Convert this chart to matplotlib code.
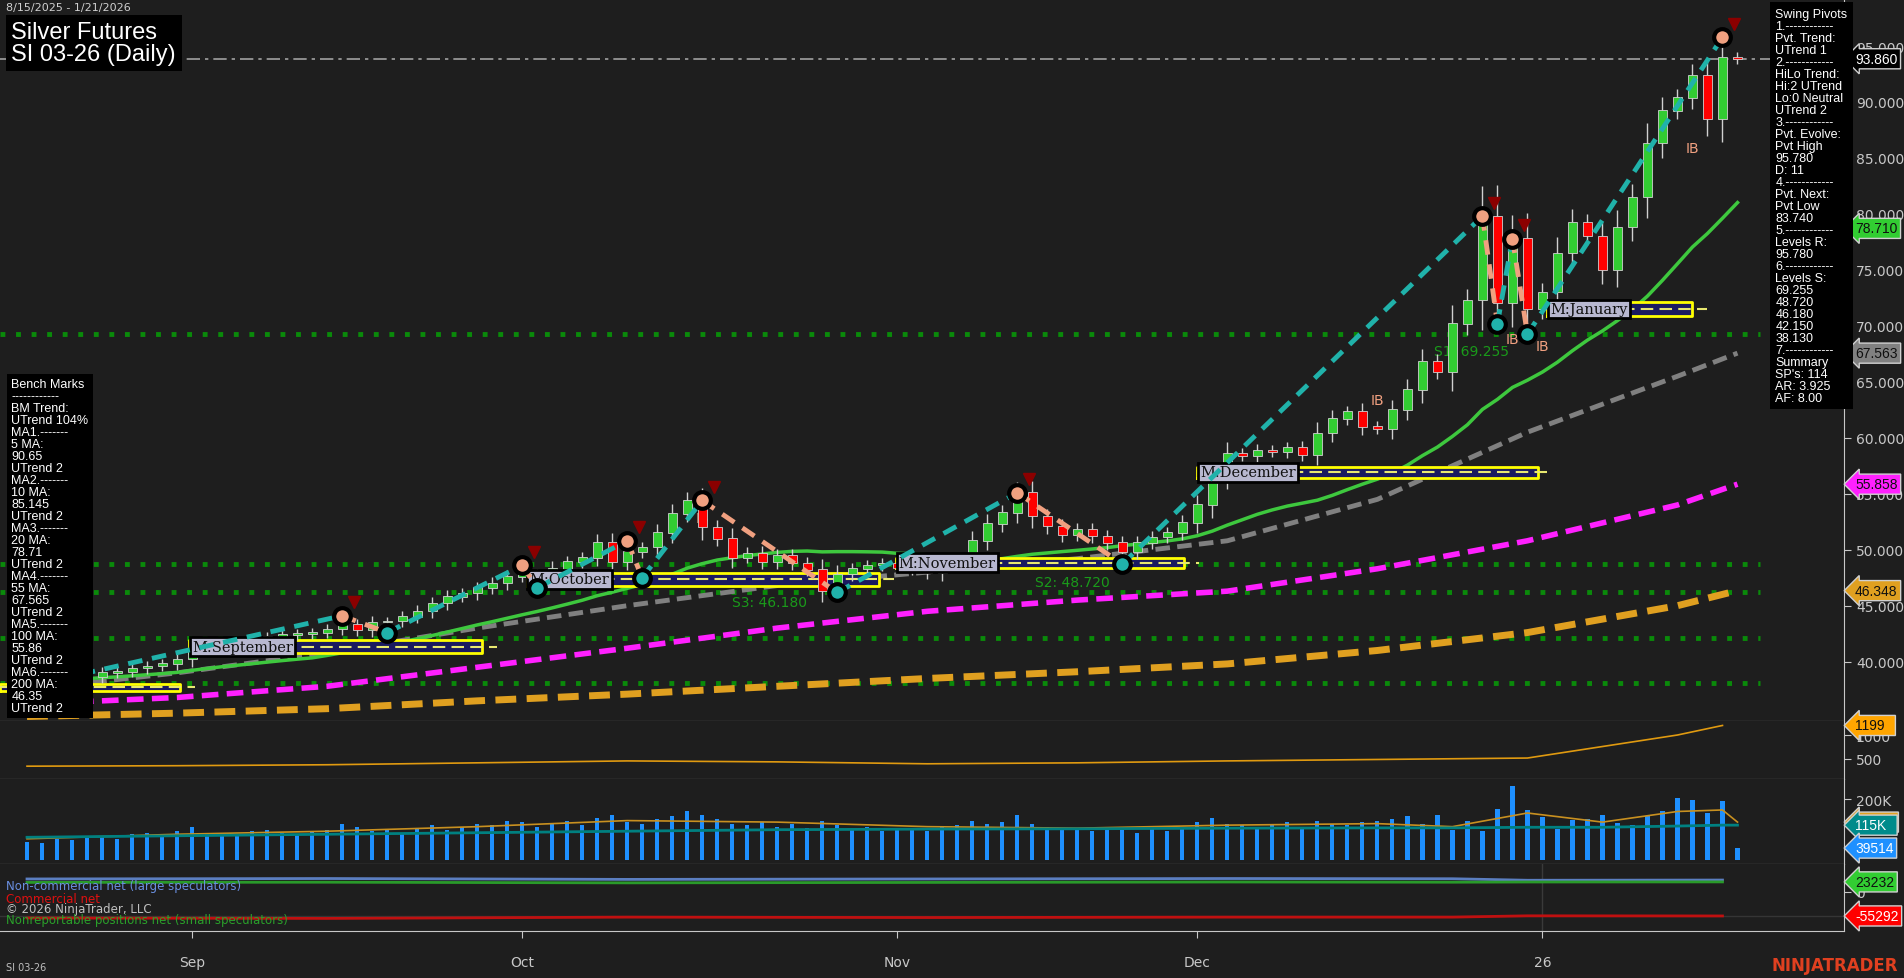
import matplotlib
matplotlib.use("Agg")
import matplotlib.pyplot as plt
import matplotlib.transforms as mtrans
import numpy as np
import pandas as pd

BG = "#1e1e1e"
# ---------------- data ----------------
closes = [38.6, 38.5, 38.4, 38.3, 38.6, 39.0, 39.1, 39.4, 39.6, 39.8, 40.2,
          41.2, 41.4, 41.6, 41.5, 41.9, 42.2, 42.4, 42.5, 42.6, 42.9, 43.3,
          42.8, 43.5, 43.6, 44.0, 44.5, 45.2, 45.8, 46.1, 46.6, 47.0, 47.6,
          47.8, 47.4, 48.3, 48.9, 49.3, 50.6, 48.9, 49.8, 50.2, 51.5, 53.2,
          54.4, 52.0, 51.0, 49.3, 49.7, 48.9, 49.5, 48.8, 48.2, 46.3, 47.8, 48.3, 48.6, 48.8,
          48.4, 48.2, 47.9, 48.8, 49.2, 50.8, 52.3, 53.3, 55.1, 53.0, 52.1, 51.3, 51.8, 51.2,
          50.6, 49.8, 50.6, 51.1, 51.5, 52.4,
          54.0, 56.5, 58.6, 58.4, 58.9, 58.7, 59.1, 58.5, 60.4, 61.7, 62.3, 61.0, 60.8, 62.5,
          64.3, 66.8, 65.9, 70.2, 72.3, 79.8, 72.0, 77.8, 71.5,
          73.0, 76.5, 79.2, 78.0, 75.0, 78.8, 81.5, 86.3, 89.2, 90.4, 92.4, 88.5, 94.0, 93.86]
first_open = 38.7

volume_k = [60, 55, 70, 65, 75, 80, 70, 85, 90, 80, 95,
            110, 85, 90, 80, 95, 100, 90, 85, 95, 100, 120,
            110, 95, 100, 90, 105, 115, 100, 110, 120, 115, 130,
            125, 110, 120, 130, 115, 140, 150, 125, 120, 135, 145,
            160, 150, 135, 120, 115, 125, 110, 120, 105, 130, 115, 100, 110, 95,
            105, 100, 95, 110, 115, 130, 120, 125, 150, 120, 110, 105, 100, 95,
            110, 100, 90, 105, 95, 110,
            125, 140, 120, 115, 110, 120, 125, 110, 130, 120, 115, 125, 130, 135,
            145, 120, 150,
            100, 129, 97, 168, 244, 164, 143, 101, 131, 136, 148, 123, 117, 146, 160,
            204, 198, 155, 193, 39.5]

ma_idx = [0, 10, 20, 30, 40, 50, 60, 70, 80, 90, 100, 110, 114]
ma55 = [37.5, 39.0, 40.8, 43.0, 45.0, 46.8, 48.0, 49.2, 50.8, 54.5, 60.5, 65.5, 67.563]
ma100 = [36.2, 36.8, 37.8, 39.5, 41.2, 43.0, 44.5, 45.5, 46.3, 48.3, 50.8, 54.0, 55.858]
ma200 = [35.1, 35.4, 35.8, 36.5, 37.1, 37.8, 38.5, 39.1, 39.8, 41.0, 42.6, 45.0, 46.348]

p2_idx = [0, 10, 20, 30, 40, 50, 60, 70, 80, 90, 100, 105, 110, 113]
p2_val = [350, 360, 380, 420, 460, 440, 400, 420, 460, 490, 520, 760, 1000, 1199]

vavg_idx = [0, 10, 20, 30, 40, 50, 60, 70, 80, 90, 95, 100, 105, 110, 113, 114]
vavg_val = [70, 85, 95, 110, 130, 125, 110, 105, 115, 120, 110, 155, 125, 160, 165, 125]
vteal_val = [75, 80, 85, 90, 95, 100, 102, 103, 105, 106, 106, 108, 108, 112, 115, 115]

cot_idx = [0, 20, 40, 60, 80, 95, 100, 113]
cot_noncomm = [30000, 31000, 29000, 30000, 31000, 30500, 27000, 27500]
cot_comm = [-60000, -61000, -58000, -59000, -58000, -58000, -55000, -55292]
cot_small = [22000, 22500, 21000, 22000, 23000, 22500, 23000, 23232]

support_levels = [69.255, 48.72, 46.18, 42.15, 38.13]

piv_idx = [2, 21, 24, 33, 34, 40, 41, 45, 54, 66, 73, 97, 98, 99, 100, 113]
piv_val = [38.4, 44.1, 42.6, 48.6, 46.6, 50.8, 47.5, 54.4, 46.18, 55.1, 48.72, 79.8, 70.2, 77.8, 69.255, 95.78]
piv_high = [False, True, False, True, False, True, False, True, False, True, False, True, False, True, False, True]

months = ["M:August", "M:September", "M:October", "M:November", "M:December", "M:January"]
mbox_x0 = [-1.8, 10.8, 33.3, 57.9, 78.0, 101.3]
mbox_x1 = [10.2, 30.3, 56.8, 77.1, 100.7, 111.0]
mbox_lo = [37.4, 40.8, 46.8, 48.4, 56.4, 70.9]
mbox_hi = [38.0, 41.9, 47.9, 49.3, 57.4, 72.1]

tick_idx = [11, 33, 58, 78, 101]
tick_lbl = ["Sep", "Oct", "Nov", "Dec", "26"]

# ---------------- figure ----------------
fig = plt.figure(figsize=(19.04, 9.79), dpi=100, facecolor=BG)
W = 0.9685
def ax_at(top_px, bot_px):
    return fig.add_axes([0, 1 - bot_px / 979, W, (bot_px - top_px) / 979], facecolor=BG)

ax = ax_at(0, 722)
ax2 = ax_at(722, 780)
axv = ax_at(780, 865)
axc = ax_at(865, 932)
XL = (-1.8, 121.1)
for a in (ax, ax2, axv, axc):
    a.set_xlim(*XL)
    for s in ("left", "top"):
        a.spines[s].set_visible(False)
    a.spines["right"].set_color("#c8c8c8")
    a.spines["bottom"].set_color("#c8c8c8")
    a.yaxis.tick_right()
    a.tick_params(axis="y", colors="#c8c8c8", labelsize=10, length=5, direction="out")
    a.tick_params(axis="x", length=0, labelbottom=False)
axc.set_xticks(tick_idx)
axc.set_xticklabels(tick_lbl)
axc.tick_params(axis="x", labelbottom=True, colors="#c8c8c8", labelsize=10, length=5, pad=12)
axc.axvline(101, color="#3a3a3a", lw=1)

# main price
n = len(closes)
x = np.arange(n)
c = np.array(closes)
o = np.concatenate([[first_open], c[:-1]])
body_lo = np.minimum(o, c)
body_hi = np.maximum(o, c)
h = body_hi + 0.3 * (body_hi - body_lo) + 0.4
l = body_lo - 0.3 * (body_hi - body_lo) - 0.4
ax.set_ylim(34.7, 99.2)
ax.set_yticks(range(40, 100, 5))
ax.set_yticklabels([f"{v:.3f}" for v in range(40, 100, 5)])

for lv in support_levels:
    ax.plot([mbox_x0[0], 115.5], [lv, lv], color="#0a8a0a", lw=3.5, ls=(0, (1, 2.2)), zorder=1)

ax.plot(ma_idx, ma200, color="#e0a020", lw=5, ls=(0, (3, 1.5)), zorder=2)
ax.plot(ma_idx, ma100, color="#ff20ff", lw=4, ls=(0, (3, 1.5)), zorder=2)
ax.plot(ma_idx, ma55, color="#808080", lw=3.5, ls=(0, (3, 1.5)), zorder=2)
ma20 = pd.Series(closes).rolling(20, min_periods=1).mean()
ax.plot(x, ma20, color="#3ec83e", lw=2.5, zorder=2)

for i in range(len(months)):
    ax.fill_between([mbox_x0[i], mbox_x1[i]], mbox_lo[i], mbox_hi[i], color="#1a1a60", zorder=3)
    ax.plot([mbox_x0[i], mbox_x1[i], mbox_x1[i], mbox_x0[i], mbox_x0[i]],
            [mbox_lo[i], mbox_lo[i], mbox_hi[i], mbox_hi[i], mbox_lo[i]], color="#ffff00", lw=2, zorder=3)
    mid = (mbox_lo[i] + mbox_hi[i]) / 2
    ax.plot([mbox_x0[i], mbox_x1[i] + 1], [mid, mid], color="#e8e870", lw=1.5, ls=(0, (6, 3)), zorder=3)
    if i > 0:
        ax.text(mbox_x0[i] + 0.2, mid, months[i], fontsize=10.5, family="DejaVu Serif",
                color="#101010", va="center", ha="left", zorder=6,
                bbox=dict(boxstyle="square,pad=0.15", fc="#b8b8d0", ec="black", lw=2))

up = c >= o
ax.vlines(x, l, h, color="#d0d0d0", lw=1, zorder=4)
ax.bar(x[up], (body_hi - body_lo)[up] + 0.05, bottom=body_lo[up], width=0.6, color="#32cd32", ec="#d0d0d0", lw=0.6, zorder=5)
ax.bar(x[~up], (body_hi - body_lo)[~up] + 0.05, bottom=body_lo[~up], width=0.6, color="#ff0000", ec="#d0d0d0", lw=0.6, zorder=5)

for i in range(len(piv_idx) - 1):
    col = "#20b2aa" if not piv_high[i] else "#f0a080"
    ax.plot(piv_idx[i:i + 2], piv_val[i:i + 2], color=col, lw=3.5, ls=(0, (3, 2)), zorder=6)
for xi, v, hi in zip(piv_idx, piv_val, piv_high):
    ax.plot(xi, v, "o", ms=12, mfc="#f0a080" if hi else "#20b2aa", mec="black", mew=3, zorder=7)
    if hi:
        ax.plot(xi + 0.8, v + 1.2, "v", ms=9, color="#8b0000", zorder=7)

ax.axhline(93.86, color="#a0a0a0", lw=1.2, ls=(0, (8, 3, 2, 3)), zorder=1)
ax.text(49.5, 45.0, "S3: 46.180", color="#1a9a1a", fontsize=10, ha="center")
ax.text(69.7, 46.8, "S2: 48.720", color="#1a9a1a", fontsize=10, ha="center")
ax.text(96.3, 67.4, "S1: 69.255", color="#1a9a1a", fontsize=10, ha="center")
for xi, yv in [(45, 52.5), (90, 63.0), (99, 68.5), (101, 67.8), (111, 85.5)]:
    ax.text(xi, yv, "IB", color="#f0a080", fontsize=10, ha="center")

tr = mtrans.blended_transform_factory(ax.transAxes, ax.transData)
def tag(a, y, s, fc, tc, trf):
    a.text(1.006, y, s, transform=trf, fontsize=10, color=tc, va="center", ha="left",
           family="Liberation Sans",
           bbox=dict(boxstyle="larrow,pad=0.22", fc=fc, ec="#d0d0d0", lw=1), zorder=10, clip_on=False)
tag(ax, 93.86, "93.860", "black", "white", tr)
tag(ax, 78.71, "78.710", "#32cd32", "#101010", tr)
tag(ax, 67.563, "67.563", "#808080", "#101010", tr)
tag(ax, 55.858, "55.858", "#ff20ff", "#101010", tr)
tag(ax, 46.348, "46.348", "#e0a020", "#101010", tr)

# title and info boxes
fig.text(0.003, 0.997, "8/15/2025 - 1/21/2026", color="#d0d0d0", fontsize=8, va="top")
fig.text(0.006, 0.978, "Silver Futures\nSI 03-26 (Daily)", color="white", fontsize=17, va="top",
         family="Liberation Sans", linespacing=1.05, bbox=dict(fc="black", ec="none", pad=4))
swing = ("Swing Pivots\n1.------------\nPvt. Trend:\nUTrend 1\n2.------------\nHiLo Trend:\nHi:2 UTrend\n"
         "Lo:0 Neutral\nUTrend 2\n3.------------\nPvt. Evolve:\nPvt High\n95.780\nD: 11\n4.------------\n"
         "Pvt. Next:\nPvt Low\n83.740\n5.------------\nLevels R:\n95.780\n6.------------\nLevels S:\n"
         "69.255\n48.720\n46.180\n42.150\n38.130\n7.------------\nSummary\nSP's: 114\nAR: 3.925\nAF: 8.00")
fig.text(0.9325, 0.991, swing, color="white", fontsize=9, va="top", linespacing=1.0,
         family="Liberation Sans", bbox=dict(fc="black", ec="none", pad=4))
bench = ("Bench Marks\n------------\nBM Trend:\nUTrend 104%\nMA1.-------\n5 MA:\n90.65\nUTrend 2\nMA2.-------\n"
         "10 MA:\n85.145\nUTrend 2\nMA3.-------\n20 MA:\n78.71\nUTrend 2\nMA4.-------\n55 MA:\n67.565\n"
         "UTrend 2\nMA5.-------\n100 MA:\n55.86\nUTrend 2\nMA6.-------\n200 MA:\n46.35\nUTrend 2")
fig.text(0.006, 0.613, bench, color="white", fontsize=9, va="top", linespacing=1.0,
         family="Liberation Sans", bbox=dict(fc="black", ec="none", pad=3))

# panel 2
ax2.set_ylim(83, 1292)
ax2.set_yticks([500, 1000])
ax2.plot(p2_idx, p2_val, color="#e09a10", lw=1.2)
tag(ax2, 1199, "1199  ", "#ffa500", "#101010", mtrans.blended_transform_factory(ax2.transAxes, ax2.transData))

# volume
axv.set_ylim(-13, 267)
axv.set_yticks([200])
axv.set_yticklabels(["200K"])
axv.bar(x, volume_k, width=0.28, color="#1e90ff", zorder=2)
axv.plot(vavg_idx, vavg_val, color="#c89020", lw=1.2, zorder=3)
axv.plot(vavg_idx, vteal_val, color="#008080", lw=2, zorder=3)
trv = mtrans.blended_transform_factory(axv.transAxes, axv.transData)
tag(axv, 125, "125K  ", "#e0a020", "#101010", trv)
tag(axv, 115, "115K  ", "#008b8b", "white", trv)
tag(axv, 39.5, "39514", "#1e90ff", "white", trv)

# COT
axc.set_ylim(-90000, 64500)
axc.set_yticks([0])
axc.axhline(-55000, color="#353535", lw=1)
axc.plot(cot_idx, cot_noncomm, color="#5b7ec0", lw=2)
axc.plot(cot_idx, cot_small, color="#2a9a2a", lw=2)
axc.plot(cot_idx, cot_comm, color="#c01010", lw=2)
trc = mtrans.blended_transform_factory(axc.transAxes, axc.transData)
tag(axc, 23232, "23232", "#32cd32", "#101010", trc)
tag(axc, -55292, "-55292", "#ff0000", "white", trc)
axc.text(0.003, 0.62, "Non-commercial net (large speculators)", transform=axc.transAxes, color="#6a8fe0", fontsize=8.5)
axc.text(0.003, 0.44, "Commercial net", transform=axc.transAxes, color="#e01010", fontsize=8.5)
axc.text(0.003, 0.28, "© 2026 NinjaTrader, LLC", transform=axc.transAxes, color="#c0c0c0", fontsize=8.5)
axc.text(0.003, 0.12, "Nonreportable positions net (small speculators)", transform=axc.transAxes, color="#2aa02a", fontsize=8.5)

fig.text(0.003, 0.008, "SI 03-26", color="#c0c0c0", fontsize=7)
fig.text(0.997, 0.008, "NINJATRADER", color="#e04020", fontsize=12, fontweight="bold", ha="right")

fig.savefig("out.png", dpi=100, facecolor=BG)
